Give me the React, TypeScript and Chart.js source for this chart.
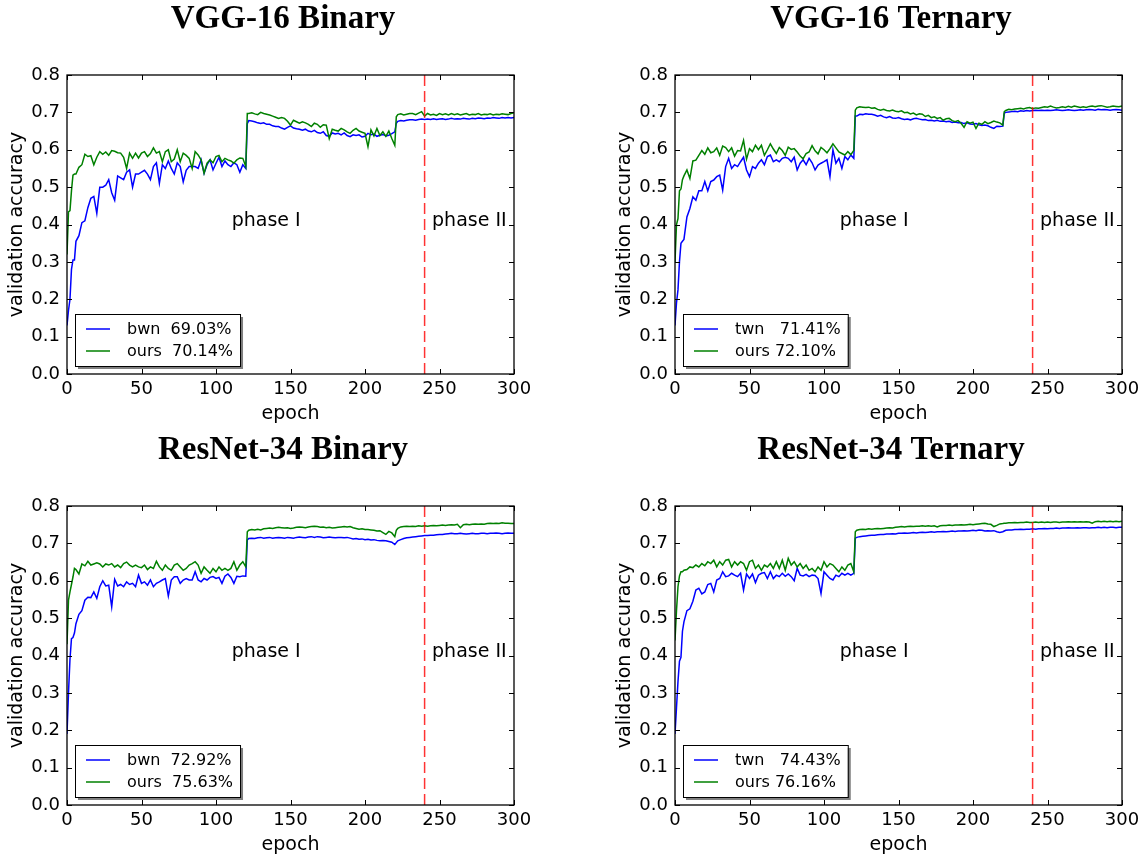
import React, { useEffect, useRef } from "react";
import { Chart, registerables } from "chart.js";

Chart.register(...registerables);

// ---------- data ----------
const EPOCHS = [
  0, 1, 2, 3, 4, 5, 6,
  8, 10, 12, 14, 16, 18, 20, 22, 24, 26,
  28, 30, 32, 34, 36, 38, 40, 42, 44, 46,
  48, 50, 52, 54, 56, 58, 60, 62, 64, 66,
  68, 70, 72, 74, 76, 78, 80, 82, 84, 86,
  88, 90, 92, 94, 96, 98, 100, 102, 104, 106,
  108, 110, 112, 114, 116, 118, 120,
  121,
  122, 124, 126, 128, 130, 132, 134, 136, 138, 140,
  142, 144, 146, 148, 150, 152, 154, 156, 158, 160,
  162, 164, 166, 168, 170, 172, 174, 176, 178, 180,
  182, 184, 186, 188, 190, 192, 194, 196, 198, 200,
  202, 204, 206, 208, 210, 212, 214, 216, 218, 220,
  221,
  222, 224, 226, 228, 230, 232, 234, 236, 238, 240,
  242, 244, 246, 248, 250, 252, 254, 256, 258, 260,
  262, 264, 266, 268, 270, 272, 274, 276, 278, 280,
  282, 284, 286, 288, 290, 292, 294, 296, 298, 300,
];

const VGG_BIN_BWN = [
  0.13, 0.17, 0.2, 0.28, 0.305, 0.305, 0.355,
  0.37, 0.405, 0.41, 0.445, 0.47, 0.475, 0.43, 0.5, 0.5, 0.505,
  0.52, 0.485, 0.465, 0.53, 0.525, 0.52, 0.54, 0.546, 0.5, 0.535,
  0.535, 0.54, 0.545, 0.535, 0.52, 0.555, 0.565, 0.51, 0.56, 0.55,
  0.57, 0.55, 0.535, 0.565, 0.555, 0.514, 0.545, 0.555, 0.555, 0.555,
  0.55, 0.573, 0.537, 0.56, 0.573, 0.546, 0.564, 0.58, 0.555, 0.57,
  0.56, 0.555, 0.565, 0.56, 0.54, 0.56, 0.55,
  0.67,
  0.678, 0.677, 0.675, 0.672, 0.67, 0.672, 0.668, 0.668, 0.664, 0.662,
  0.662, 0.658, 0.655, 0.66, 0.664, 0.658, 0.656, 0.655, 0.652, 0.655,
  0.65, 0.648, 0.652, 0.646, 0.644, 0.648, 0.638, 0.636, 0.645, 0.642,
  0.644, 0.64, 0.645, 0.638, 0.635, 0.64, 0.638, 0.64, 0.634, 0.636,
  0.644, 0.64, 0.642, 0.636, 0.639, 0.641, 0.637, 0.639, 0.643, 0.648,
  0.671,
  0.676, 0.678, 0.677, 0.679, 0.68, 0.68, 0.679, 0.681, 0.682, 0.681,
  0.682, 0.681, 0.683, 0.681, 0.682, 0.683, 0.681, 0.682, 0.684, 0.682,
  0.683, 0.682, 0.684, 0.683, 0.682, 0.684, 0.683, 0.685, 0.684, 0.683,
  0.685, 0.684, 0.686, 0.685, 0.684, 0.686, 0.685, 0.686, 0.685, 0.686,
];

const VGG_BIN_OURS = [
  0.32, 0.434, 0.437, 0.49, 0.532, 0.535, 0.535,
  0.553, 0.56, 0.588, 0.582, 0.584, 0.56, 0.58, 0.595, 0.588, 0.594,
  0.585, 0.598, 0.596, 0.592, 0.591, 0.58, 0.55, 0.591, 0.577, 0.591,
  0.578, 0.591, 0.595, 0.582, 0.59, 0.605, 0.591, 0.595, 0.568, 0.595,
  0.6, 0.568, 0.575, 0.6, 0.568, 0.591, 0.585, 0.577, 0.55, 0.595,
  0.586, 0.573, 0.537, 0.564, 0.573, 0.565, 0.582, 0.585, 0.568, 0.577,
  0.573, 0.57, 0.564, 0.573, 0.578, 0.577, 0.555,
  0.697,
  0.697, 0.699, 0.696, 0.694, 0.7, 0.697, 0.695, 0.693, 0.69, 0.687,
  0.684, 0.686, 0.684, 0.676, 0.666, 0.679, 0.675, 0.671, 0.675, 0.672,
  0.668, 0.662, 0.671, 0.668, 0.66, 0.667, 0.666, 0.63, 0.655, 0.652,
  0.65, 0.657, 0.653, 0.648, 0.644, 0.652, 0.657, 0.65, 0.647, 0.644,
  0.608, 0.653, 0.637, 0.657, 0.638, 0.648, 0.636, 0.65, 0.63, 0.612,
  0.688,
  0.694, 0.696, 0.693, 0.695, 0.697, 0.697, 0.694, 0.698, 0.702, 0.69,
  0.697, 0.693, 0.695, 0.692, 0.697, 0.694, 0.696, 0.693, 0.697, 0.694,
  0.696, 0.693, 0.695, 0.697, 0.693, 0.695, 0.694, 0.697, 0.693, 0.695,
  0.694, 0.696, 0.693, 0.695, 0.694, 0.696, 0.695, 0.694, 0.697, 0.699,
];

const VGG_TER_TWN = [
  0.13, 0.19, 0.225, 0.3, 0.35, 0.355, 0.36,
  0.42, 0.443, 0.474, 0.465, 0.49, 0.49, 0.515, 0.49, 0.515, 0.519,
  0.528, 0.532, 0.492, 0.555, 0.577, 0.55, 0.56, 0.555, 0.568, 0.58,
  0.546, 0.528, 0.555, 0.55, 0.564, 0.573, 0.56, 0.582, 0.586, 0.568,
  0.573, 0.568, 0.577, 0.58, 0.577, 0.568, 0.58, 0.546, 0.564, 0.573,
  0.56, 0.577, 0.565, 0.546, 0.559, 0.564, 0.568, 0.573, 0.528, 0.6,
  0.564, 0.577, 0.55, 0.582, 0.573, 0.586, 0.577,
  0.69,
  0.69, 0.695, 0.694, 0.696, 0.695, 0.695, 0.693, 0.69, 0.692, 0.688,
  0.686, 0.689, 0.685, 0.684, 0.686, 0.683, 0.681, 0.682, 0.68, 0.683,
  0.684, 0.682, 0.68, 0.681, 0.678, 0.679, 0.677, 0.679, 0.676, 0.677,
  0.675, 0.676, 0.673, 0.674, 0.672, 0.673, 0.67, 0.672, 0.669, 0.668,
  0.67, 0.667, 0.665, 0.666, 0.664, 0.66, 0.657, 0.663, 0.662, 0.663,
  0.698,
  0.7, 0.701, 0.702, 0.703, 0.702, 0.704, 0.703, 0.705, 0.704, 0.705,
  0.706, 0.705, 0.706, 0.705, 0.706, 0.705, 0.706, 0.707, 0.706, 0.705,
  0.706, 0.707, 0.706, 0.705, 0.706, 0.707, 0.706, 0.707, 0.708, 0.707,
  0.706, 0.708, 0.707, 0.708, 0.707, 0.706, 0.707, 0.708, 0.707, 0.706,
];

const VGG_TER_OURS = [
  0.3, 0.4, 0.416, 0.49, 0.495, 0.52, 0.53,
  0.546, 0.523, 0.57, 0.572, 0.585, 0.598, 0.588, 0.605, 0.592, 0.595,
  0.605, 0.585, 0.61, 0.606, 0.595, 0.605, 0.583, 0.598, 0.597, 0.625,
  0.575, 0.603, 0.595, 0.612, 0.6, 0.612, 0.585, 0.6, 0.616, 0.602,
  0.59, 0.606, 0.598, 0.585, 0.607, 0.601, 0.603, 0.594, 0.583, 0.576,
  0.59, 0.594, 0.611, 0.597, 0.589, 0.606, 0.6, 0.592, 0.603, 0.616,
  0.605, 0.594, 0.59, 0.586, 0.595, 0.587, 0.598,
  0.706,
  0.712, 0.715, 0.714, 0.713, 0.714, 0.711, 0.712, 0.708, 0.706, 0.708,
  0.705, 0.704, 0.706, 0.703, 0.702, 0.704, 0.699, 0.7, 0.696, 0.698,
  0.693, 0.696, 0.695, 0.689, 0.692, 0.686, 0.688, 0.684, 0.686, 0.679,
  0.683, 0.684, 0.678, 0.675, 0.678, 0.671, 0.66, 0.675, 0.671, 0.674,
  0.657, 0.671, 0.668, 0.675, 0.67, 0.673, 0.677, 0.674, 0.672, 0.666,
  0.702,
  0.705, 0.708, 0.707, 0.709, 0.71, 0.711, 0.709, 0.712, 0.713, 0.71,
  0.712, 0.711, 0.713, 0.715, 0.714, 0.717, 0.714, 0.712, 0.713, 0.715,
  0.713, 0.716, 0.714, 0.717, 0.715, 0.713, 0.715, 0.713, 0.716, 0.717,
  0.715, 0.717, 0.718, 0.716, 0.714, 0.715, 0.717, 0.716, 0.715, 0.717,
];

const RES_BIN_BWN = [
  0.19, 0.3, 0.39, 0.445, 0.448, 0.46, 0.485,
  0.51, 0.52, 0.548, 0.556, 0.555, 0.57, 0.553, 0.584, 0.6, 0.586,
  0.588, 0.53, 0.604, 0.586, 0.59, 0.584, 0.597, 0.59, 0.593, 0.584,
  0.615, 0.593, 0.597, 0.588, 0.602, 0.584, 0.593, 0.597, 0.602, 0.606,
  0.559, 0.602, 0.611, 0.611, 0.593, 0.602, 0.606, 0.602, 0.602, 0.624,
  0.602, 0.597, 0.606, 0.602, 0.609, 0.611, 0.606, 0.609, 0.593, 0.612,
  0.618, 0.609, 0.593, 0.612, 0.611, 0.613, 0.612,
  0.709,
  0.713, 0.714, 0.713, 0.715, 0.716, 0.714, 0.715, 0.716, 0.714, 0.715,
  0.716, 0.715, 0.714, 0.716, 0.715, 0.714, 0.716, 0.717, 0.716, 0.715,
  0.717, 0.718, 0.716, 0.718, 0.717, 0.715, 0.716, 0.717, 0.716, 0.715,
  0.716, 0.716, 0.715, 0.716, 0.714, 0.712, 0.713, 0.711, 0.712, 0.71,
  0.711, 0.709, 0.71, 0.708, 0.707, 0.708, 0.707, 0.705, 0.703, 0.697,
  0.702,
  0.707, 0.71, 0.713, 0.715, 0.716, 0.717, 0.718, 0.719, 0.72, 0.721,
  0.721, 0.722, 0.722, 0.723, 0.724, 0.724, 0.725, 0.726, 0.727, 0.726,
  0.726, 0.727, 0.726, 0.725, 0.726, 0.727, 0.726, 0.726, 0.727, 0.727,
  0.726, 0.727, 0.727, 0.728, 0.727, 0.726, 0.727, 0.728, 0.727, 0.727,
];

const RES_BIN_OURS = [
  0.43, 0.548, 0.57, 0.59, 0.61, 0.633, 0.63,
  0.618, 0.645, 0.64, 0.652, 0.642, 0.645, 0.648, 0.645, 0.637, 0.645,
  0.642, 0.646, 0.637, 0.642, 0.635, 0.646, 0.65, 0.642, 0.637, 0.642,
  0.637, 0.635, 0.642, 0.63, 0.637, 0.633, 0.652, 0.637, 0.628, 0.642,
  0.633, 0.628, 0.642, 0.646, 0.637, 0.628, 0.633, 0.642, 0.646, 0.651,
  0.642, 0.62, 0.637, 0.628, 0.62, 0.633, 0.624, 0.637, 0.628, 0.633,
  0.628, 0.633, 0.651, 0.628, 0.642, 0.651, 0.637,
  0.731,
  0.735, 0.737, 0.736, 0.738, 0.736, 0.739, 0.74, 0.741, 0.74, 0.742,
  0.743, 0.742, 0.741, 0.742, 0.74, 0.741, 0.743, 0.744, 0.743, 0.742,
  0.744, 0.745, 0.746, 0.745, 0.743, 0.744, 0.742, 0.743, 0.741, 0.742,
  0.743, 0.744, 0.745, 0.744, 0.745, 0.742, 0.74, 0.738, 0.739, 0.737,
  0.737, 0.736, 0.735, 0.733, 0.734, 0.729, 0.724, 0.732, 0.728, 0.718,
  0.735,
  0.74, 0.744, 0.745, 0.746, 0.745, 0.746, 0.745, 0.747, 0.746, 0.747,
  0.746, 0.747, 0.748, 0.747, 0.748, 0.749, 0.748, 0.749, 0.75, 0.749,
  0.751, 0.742, 0.75, 0.751, 0.75, 0.751, 0.752, 0.751, 0.752, 0.751,
  0.753, 0.754, 0.753, 0.754, 0.753, 0.755, 0.754, 0.754, 0.753, 0.753,
];

const RES_TER_TWN = [
  0.19, 0.26, 0.33, 0.385, 0.395, 0.465, 0.49,
  0.52, 0.525, 0.545, 0.575, 0.58, 0.565, 0.57, 0.59, 0.593, 0.57,
  0.602, 0.606, 0.624, 0.611, 0.613, 0.62, 0.615, 0.611, 0.62, 0.575,
  0.618, 0.606, 0.618, 0.595, 0.615, 0.62, 0.622, 0.606, 0.624, 0.606,
  0.615, 0.611, 0.62, 0.612, 0.618, 0.611, 0.6, 0.633, 0.615, 0.613,
  0.617, 0.611, 0.615, 0.614, 0.606, 0.566, 0.624, 0.615, 0.606, 0.602,
  0.615, 0.611, 0.62, 0.615, 0.62, 0.615, 0.62,
  0.714,
  0.716, 0.718, 0.719, 0.72, 0.721, 0.722, 0.722, 0.723, 0.724, 0.724,
  0.725, 0.725, 0.726, 0.725, 0.727, 0.727, 0.728, 0.727, 0.728, 0.729,
  0.728, 0.729, 0.73, 0.729, 0.73, 0.731, 0.73, 0.731, 0.731, 0.732,
  0.731, 0.732, 0.733, 0.732, 0.733, 0.733, 0.734, 0.733, 0.734, 0.735,
  0.734, 0.736, 0.735, 0.733, 0.734, 0.733, 0.734, 0.731, 0.729, 0.731,
  0.733,
  0.735, 0.736, 0.736, 0.737, 0.737, 0.738, 0.737, 0.738, 0.738, 0.739,
  0.738, 0.739, 0.739, 0.74, 0.739, 0.74, 0.74, 0.741, 0.74, 0.741,
  0.741, 0.742, 0.741, 0.741, 0.742, 0.741, 0.742, 0.742, 0.741, 0.742,
  0.742, 0.743, 0.742, 0.743, 0.742, 0.743, 0.743, 0.742, 0.743, 0.743,
];

const RES_TER_OURS = [
  0.44, 0.52, 0.584, 0.613, 0.624, 0.624, 0.628,
  0.63, 0.637, 0.635, 0.642, 0.637, 0.646, 0.64, 0.651, 0.646, 0.655,
  0.637, 0.651, 0.642, 0.655, 0.657, 0.637, 0.651, 0.642, 0.651, 0.646,
  0.628, 0.651, 0.655, 0.633, 0.642, 0.628, 0.642, 0.637, 0.646, 0.633,
  0.651, 0.633, 0.655, 0.628, 0.66, 0.642, 0.651, 0.637, 0.646, 0.633,
  0.642, 0.628, 0.633, 0.624, 0.637, 0.628, 0.651, 0.637, 0.646, 0.642,
  0.633, 0.624, 0.637, 0.628, 0.642, 0.646, 0.624,
  0.731,
  0.735, 0.737, 0.738, 0.737, 0.739, 0.738, 0.739, 0.74, 0.739, 0.74,
  0.741, 0.742, 0.741, 0.743, 0.744, 0.745, 0.744, 0.745, 0.746, 0.745,
  0.746, 0.746, 0.747, 0.746, 0.747, 0.746, 0.747, 0.744, 0.747, 0.748,
  0.748, 0.749, 0.748, 0.749, 0.749, 0.75, 0.749, 0.75, 0.751, 0.75,
  0.751, 0.752, 0.753, 0.754, 0.752, 0.751, 0.745, 0.748, 0.752, 0.753,
  0.754,
  0.754, 0.755, 0.755, 0.756, 0.755, 0.756, 0.756, 0.757, 0.756, 0.756,
  0.757, 0.756, 0.757, 0.756, 0.757, 0.756, 0.757, 0.757, 0.756, 0.757,
  0.757, 0.758, 0.757, 0.758, 0.757, 0.758, 0.757, 0.758, 0.757, 0.754,
  0.758, 0.759, 0.758, 0.759, 0.758, 0.759, 0.758, 0.759, 0.758, 0.759,
];

const TITLES = ["VGG-16 Binary", "VGG-16 Ternary", "ResNet-34 Binary", "ResNet-34 Ternary"];
const BLUE_LABELS = ["bwn  69.03%", "twn   71.41%", "bwn  72.92%", "twn   74.43%"];
const GREEN_LABELS = ["ours  70.14%", "ours 72.10%", "ours  75.63%", "ours 76.16%"];
const BLUE_SERIES = [VGG_BIN_BWN, VGG_TER_TWN, RES_BIN_BWN, RES_TER_TWN];
const GREEN_SERIES = [VGG_BIN_OURS, VGG_TER_OURS, RES_BIN_OURS, RES_TER_OURS];

const PHASE_SPLIT_X = [240, 240];
const PHASE_SPLIT_Y = [0, 0.8];
const PHASE_LABELS = ["phase I", "phase II"];
const PHASE_LABEL_X = [110.5, 245];
const PHASE_LABEL_Y = 0.41;

const X_TICKS = [0, 50, 100, 150, 200, 250, 300];
const Y_TICKS = [0, 0.1, 0.2, 0.3, 0.4, 0.5, 0.6, 0.7, 0.8];

// ---------- layout ----------
const CANVAS_W = 566;
const CANVAS_H = 430;
const POSITIONS = [
  { left: 0, top: 0 },
  { left: 608, top: 0 },
  { left: 0, top: 431 },
  { left: 608, top: 431 },
];

const SANS = "'DejaVu Sans', 'Bitstream Vera Sans', sans-serif";

const decorPlugin = {
  id: "decor",
  afterDatasetsDraw(chart: any) {
    const { ctx, chartArea: a, scales } = chart;
    const xs = scales.x;
    const ys = scales.y;
    ctx.save();
    // frame
    ctx.strokeStyle = "#000";
    ctx.lineWidth = 1.3;
    ctx.strokeRect(a.left, a.top, a.right - a.left, a.bottom - a.top);
    // inward ticks on all sides
    ctx.lineWidth = 1;
    ctx.beginPath();
    for (const v of Y_TICKS) {
      const py = Math.round(ys.getPixelForValue(v)) + 0.5;
      ctx.moveTo(a.left, py);
      ctx.lineTo(a.left + 5, py);
      ctx.moveTo(a.right, py);
      ctx.lineTo(a.right - 5, py);
    }
    for (const v of X_TICKS) {
      const px = Math.round(xs.getPixelForValue(v)) + 0.5;
      ctx.moveTo(px, a.bottom);
      ctx.lineTo(px, a.bottom - 5);
      ctx.moveTo(px, a.top);
      ctx.lineTo(px, a.top + 5);
    }
    ctx.stroke();

    // phase labels
    ctx.fillStyle = "#000";
    ctx.font = `19px ${SANS}`;
    ctx.textAlign = "left";
    ctx.textBaseline = "middle";
    PHASE_LABELS.forEach((t, i) => {
      ctx.fillText(t, xs.getPixelForValue(PHASE_LABEL_X[i]), ys.getPixelForValue(PHASE_LABEL_Y));
    });

    // legend (lower left, with shadow)
    const items = chart.data.datasets.filter((d: any) => d.showInLegend);
    ctx.font = `16px ${SANS}`;
    let maxW = 0;
    items.forEach((d: any) => {
      maxW = Math.max(maxW, ctx.measureText(d.label).width);
    });
    const bw = 52 + maxW + 7;
    const bh = 52;
    const bx = a.left + 8;
    const by = a.bottom - 8 - bh;
    ctx.fillStyle = "rgba(0,0,0,0.5)";
    ctx.fillRect(bx + 3, by + 3, bw, bh);
    ctx.fillStyle = "#fff";
    ctx.fillRect(bx, by, bw, bh);
    ctx.strokeStyle = "#000";
    ctx.lineWidth = 1;
    ctx.strokeRect(Math.round(bx) + 0.5, Math.round(by) + 0.5, bw, bh);
    items.forEach((d: any, i: number) => {
      const ry = by + 15 + i * 22;
      ctx.strokeStyle = d.borderColor;
      ctx.lineWidth = 1.5;
      ctx.beginPath();
      ctx.moveTo(bx + 11, ry);
      ctx.lineTo(bx + 35, ry);
      ctx.stroke();
      ctx.fillStyle = "#000";
      ctx.textBaseline = "middle";
      ctx.fillText(d.label, bx + 52, ry + 1);
    });
    ctx.restore();
  },
};

function Panel({ idx }: { idx: number }) {
  const ref = useRef<HTMLCanvasElement>(null);
  useEffect(() => {
    const blue = BLUE_SERIES[idx];
    const green = GREEN_SERIES[idx];
    const chart = new Chart(ref.current as HTMLCanvasElement, {
      type: "line",
      data: {
        datasets: [
          {
            label: BLUE_LABELS[idx],
            data: EPOCHS.map((x, i) => ({ x, y: blue[i] })),
            borderColor: "#0000ff",
            borderWidth: 1.5,
            pointRadius: 0,
            tension: 0,
            order: 2,
            showInLegend: true,
          } as any,
          {
            label: GREEN_LABELS[idx],
            data: EPOCHS.map((x, i) => ({ x, y: green[i] })),
            borderColor: "#008000",
            borderWidth: 1.5,
            pointRadius: 0,
            tension: 0,
            order: 1,
            showInLegend: true,
          } as any,
          {
            label: "phase split",
            data: PHASE_SPLIT_X.map((x, i) => ({ x, y: PHASE_SPLIT_Y[i] })),
            borderColor: "rgba(255,0,0,0.8)",
            borderWidth: 1.5,
            borderDash: [11, 5],
            pointRadius: 0,
            order: 0,
            showInLegend: false,
          } as any,
        ],
      },
      options: {
        responsive: false,
        animation: false,
        devicePixelRatio: 1,
        layout: { padding: 0 },
        plugins: {
          legend: { display: false },
          tooltip: { enabled: false },
          title: {
            display: true,
            text: TITLES[idx],
            color: "#000",
            fullSize: true,
            font: { family: "'Liberation Serif', 'Times New Roman', serif", size: 33, weight: "bold", lineHeight: 1.0 },
            padding: { top: 3, bottom: 39 },
          },
        },
        scales: {
          x: {
            type: "linear",
            position: "bottom",
            min: 0,
            max: 300,
            afterBuildTicks: (s: any) => {
              s.ticks = X_TICKS.map((v) => ({ value: v }));
            },
            ticks: {
              color: "#000",
              font: { family: SANS, size: 18 },
              padding: 5,
              maxRotation: 0,
              autoSkip: false,
              callback: (v: any) => String(v),
            },
            grid: { display: false, drawTicks: false },
            border: { display: false },
            title: {
              display: true,
              text: "epoch",
              color: "#000",
              font: { family: SANS, size: 19 },
              padding: { top: 0, bottom: 5 },
            },
            afterFit: (s: any) => {
              s.height = 56;
            },
          },
          y: {
            type: "linear",
            position: "left",
            min: 0,
            max: 0.8,
            afterBuildTicks: (s: any) => {
              s.ticks = Y_TICKS.map((v) => ({ value: v }));
            },
            ticks: {
              color: "#000",
              font: { family: SANS, size: 18 },
              padding: 7,
              callback: (v: any) => Number(v).toFixed(1),
            },
            grid: { display: false, drawTicks: false },
            border: { display: false },
            title: {
              display: true,
              text: "validation accuracy",
              color: "#000",
              font: { family: SANS, size: 19 },
              padding: { top: 6, bottom: 0 },
            },
            afterFit: (s: any) => {
              s.width = 67;
            },
          },
          yR: {
            type: "linear",
            position: "right",
            min: 0,
            max: 0.8,
            ticks: { display: false },
            grid: { display: false, drawTicks: false },
            border: { display: false },
            afterFit: (s: any) => {
              s.width = 52;
            },
          },
        },
      } as any,
      plugins: [decorPlugin],
    });
    return () => chart.destroy();
  }, [idx]);
  const pos = POSITIONS[idx];
  return (
    <canvas
      ref={ref}
      width={CANVAS_W}
      height={CANVAS_H}
      style={{ position: "absolute", left: pos.left, top: pos.top, width: CANVAS_W, height: CANVAS_H }}
    />
  );
}

export default function App() {
  return (
    <div
      style={{
        position: "fixed",
        left: 0,
        top: 0,
        width: 1146,
        height: 859,
        overflow: "hidden",
        background: "#fff",
      }}
    >
      {TITLES.map((_, i) => (
        <Panel key={i} idx={i} />
      ))}
    </div>
  );
}
